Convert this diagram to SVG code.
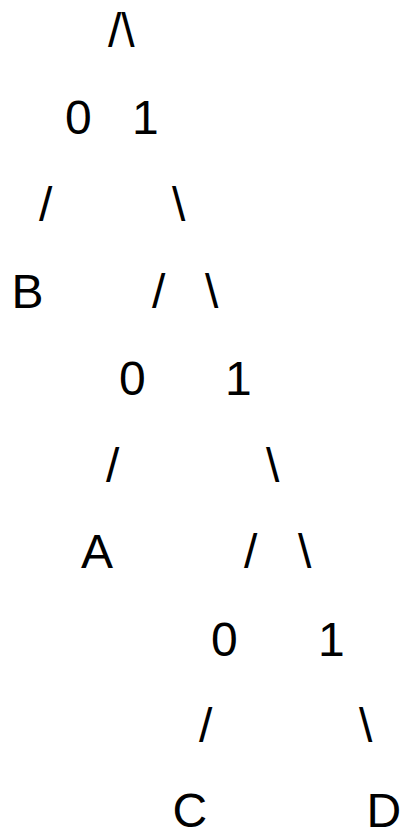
<svg xmlns="http://www.w3.org/2000/svg" width="401" height="829" viewBox="0 0 401 829">
<style>
text{font-family:"Liberation Sans",Arial,sans-serif;font-size:48px;fill:#000}
</style>
<rect width="401" height="829" fill="#fff"/>
<g id="root"><text x="108" y="47">/\</text></g>
<g id="bits1"><text x="65" y="134">0</text><text x="132" y="134">1</text></g>
<g id="leafB"><text x="11.5" y="308">B</text></g>
<g id="node2"><text x="152" y="308">/</text><text x="205" y="308">\</text></g>
<g id="bits2"><text x="119" y="395">0</text><text x="225" y="395">1</text></g>
<g id="leafA"><text x="81" y="568">A</text></g>
<g id="node3"><text x="244" y="568">/</text><text x="298" y="568">\</text></g>
<g id="bits3"><text x="211" y="656">0</text><text x="318" y="656">1</text></g>
<g id="leafC"><text x="172.5" y="827">C</text></g>
<g id="leafD"><text x="366.5" y="827">D</text></g>
<g id="connectors">
<text x="39" y="221">/</text><text x="172" y="221">\</text>
<text x="106" y="482">/</text><text x="266" y="482">\</text>
<text x="199" y="742">/</text><text x="359" y="742">\</text>
</g>
</svg>
